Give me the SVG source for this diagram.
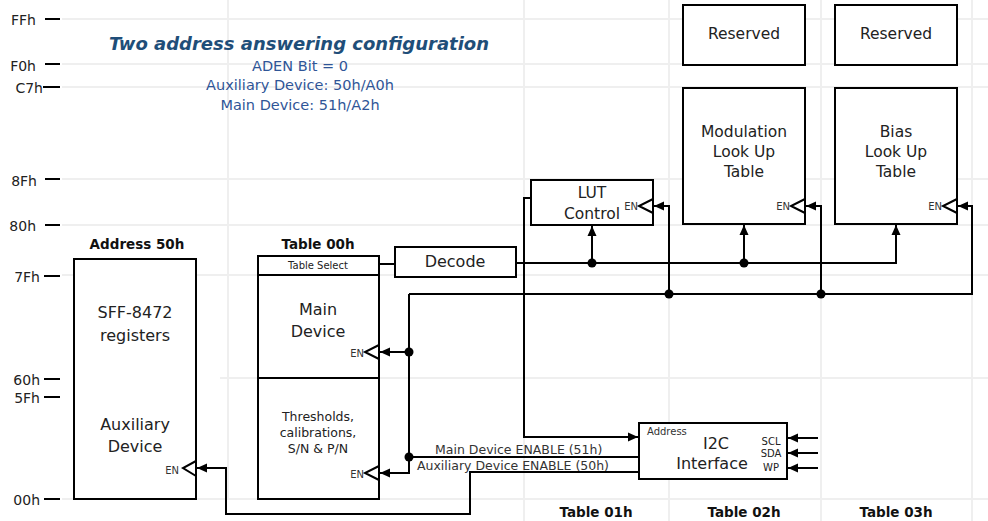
<svg xmlns="http://www.w3.org/2000/svg" width="988" height="521" viewBox="0 0 988 521">
<style>
.grid{stroke:#efefef;stroke-width:2;fill:none}
.tick{stroke:#000;stroke-width:2}
.ax{font-family:"DejaVu Sans",sans-serif;font-size:14px;fill:#222;text-anchor:end}
.box{fill:#fff;stroke:#000;stroke-width:2}
.t{font-family:"DejaVu Sans",sans-serif;fill:#222;text-anchor:middle}
.big{font-size:16px}
.mid{font-size:15.5px}
.sm{font-size:12.5px}
.xs{font-size:10px}
.en{font-family:"DejaVu Sans",sans-serif;font-size:10px;fill:#333;text-anchor:end}
.hdr{font-family:"DejaVu Sans",sans-serif;font-weight:bold;font-size:13.5px;fill:#111;text-anchor:middle}
.tri{fill:none;stroke:#000;stroke-width:2;stroke-linejoin:miter}
.ln{fill:none;stroke:#000;stroke-width:2}
.arr{fill:none;stroke:#000;stroke-width:2;marker-end:url(#ah)}
.dot{fill:#000}
.lbl{font-family:"DejaVu Sans",sans-serif;font-size:12.5px;fill:#333}
.sub{font-family:"DejaVu Sans",sans-serif;font-size:14.5px;fill:#2f5597;text-anchor:middle}
</style>
<defs>
<marker id="ah" markerWidth="11" markerHeight="10" refX="10" refY="5" orient="auto" markerUnits="userSpaceOnUse">
<path d="M0,0.5 L10,5 L0,9.5 z" fill="#000"/>
</marker>
</defs>
<rect width="988" height="521" fill="#fff"/>
<g id="grid">
<path class="grid" d="M62,19H988M62,64H988M62,87H988M62,179H988M62,225H988M62,275H988M220,378H988M62,499H988"/>
<path class="grid" d="M228,0V499M524,0V521M669,0V521M821,0V521M972,0V521"/>
</g>
<g id="axis">
<path class="tick" d="M45,19H60M45,64H60M43,87H60M45,179H60M45,225H60M44,276H60M44,379H60M44,397H60M44,499H60"/>
<text class="ax" x="36" y="25">FFh</text>
<text class="ax" x="36" y="71">F0h</text>
<text class="ax" x="43" y="93">C7h</text>
<text class="ax" x="37" y="186">8Fh</text>
<text class="ax" x="36" y="231">80h</text>
<text class="ax" x="40" y="282">7Fh</text>
<text class="ax" x="40" y="385">60h</text>
<text class="ax" x="40" y="403">5Fh</text>
<text class="ax" x="40" y="505">00h</text>
</g>
<g id="title">
<text x="299" y="50" font-family="DejaVu Sans, sans-serif" font-weight="bold" font-style="italic" font-size="18" fill="#1f4e79" text-anchor="middle">Two address answering configuration</text>
<text class="sub" x="300" y="71">ADEN Bit = 0</text>
<text class="sub" x="300" y="90">Auxiliary Device: 50h/A0h</text>
<text class="sub" x="300" y="110">Main Device: 51h/A2h</text>
</g>
<g id="address50h">
<text class="hdr" x="137" y="249" font-size="14">Address 50h</text>
<rect class="box" x="74" y="259" width="122" height="240"/>
<text class="t big" x="135" y="318">SFF-8472</text>
<text class="t big" x="135" y="341">registers</text>
<text class="t big" x="135" y="430">Auxiliary</text>
<text class="t big" x="135" y="452">Device</text>
<text class="en" x="179" y="474">EN</text>
<polyline class="tri" points="196,461 183,468 196,476"/>
</g>
<g id="table00h">
<text class="hdr" x="318" y="249">Table 00h</text>
<rect class="box" x="258" y="256" width="121" height="243"/>
<line class="ln" x1="258" y1="275" x2="379" y2="275"/>
<line class="ln" x1="258" y1="378" x2="379" y2="378"/>
<text class="t xs" x="318" y="269">Table Select</text>
<text class="t big" x="318" y="315">Main</text>
<text class="t big" x="318" y="337">Device</text>
<text class="en" x="364" y="357">EN</text>
<polyline class="tri" points="379,345 365,352 379,359"/>
<text class="t sm" x="318" y="421">Thresholds,</text>
<text class="t sm" x="318" y="437">calibrations,</text>
<text class="t sm" x="318" y="453">S/N &amp; P/N</text>
<text class="en" x="364" y="478">EN</text>
<polyline class="tri" points="379,466 365,473 379,480"/>
</g>
<g id="decode">
<rect class="box" x="395" y="247" width="121" height="30"/>
<text class="t big" x="455" y="267">Decode</text>
</g>
<g id="lutcontrol">
<rect class="box" x="531" y="180" width="122" height="45"/>
<text class="t mid" x="592" y="198">LUT</text>
<text class="t mid" x="592" y="219">Control</text>
<text class="en" x="638" y="210">EN</text>
<polyline class="tri" points="653,199 639,206 653,213"/>
</g>
<g id="reserved1">
<rect class="box" x="683" y="5" width="122" height="60"/>
<text class="t mid" x="744" y="39">Reserved</text>
</g>
<g id="reserved2">
<rect class="box" x="835" y="5" width="122" height="60"/>
<text class="t mid" x="896" y="39">Reserved</text>
</g>
<g id="modulation">
<rect class="box" x="683" y="88" width="122" height="136"/>
<text class="t mid" x="744" y="137">Modulation</text>
<text class="t mid" x="744" y="157">Look Up</text>
<text class="t mid" x="744" y="177">Table</text>
<text class="en" x="790" y="210">EN</text>
<polyline class="tri" points="805,199 791,206 805,213"/>
</g>
<g id="bias">
<rect class="box" x="835" y="88" width="122" height="136"/>
<text class="t mid" x="896" y="137">Bias</text>
<text class="t mid" x="896" y="157">Look Up</text>
<text class="t mid" x="896" y="177">Table</text>
<text class="en" x="942" y="210">EN</text>
<polyline class="tri" points="957,199 943,206 957,213"/>
</g>
<g id="i2c">
<rect class="box" x="639" y="423" width="148" height="56"/>
<text x="647" y="435" font-family="DejaVu Sans, sans-serif" font-size="10" fill="#333">Address</text>
<text class="t big" x="716" y="449">I2C</text>
<text class="t big" x="712" y="469">Interface</text>
<text class="t xs" x="771" y="445">SCL</text>
<text class="t xs" x="771" y="457">SDA</text>
<text class="t xs" x="771" y="471">WP</text>
</g>
<g id="tablelabels">
<text class="hdr" x="596" y="517">Table 01h</text>
<text class="hdr" x="744" y="517">Table 02h</text>
<text class="hdr" x="896" y="517">Table 03h</text>
</g>
<g id="connectors">
<path class="ln" d="M379,264H395"/>
<path class="arr" d="M516,263H896V225"/>
<path class="arr" d="M592,263V226"/>
<path class="arr" d="M744,263V225"/>
<path class="arr" d="M409,294H972V206H958"/>
<path class="arr" d="M669,294V206H654"/>
<path class="arr" d="M821,294V206H806"/>
<path class="arr" d="M409,294V473H380"/>
<path class="arr" d="M409,352H380"/>
<path class="ln" d="M639,457H409"/>
<path class="arr" d="M639,472H470V514H226V468H197"/>
<path class="arr" d="M531,198H524V437H638"/>
<path class="arr" d="M818,438H788"/>
<path class="arr" d="M818,453H788"/>
<path class="arr" d="M818,468H788"/>
<circle class="dot" cx="592" cy="263" r="4.5"/>
<circle class="dot" cx="744" cy="263" r="4.5"/>
<circle class="dot" cx="669" cy="294" r="4.5"/>
<circle class="dot" cx="821" cy="294" r="4.5"/>
<circle class="dot" cx="409" cy="352" r="4.5"/>
<circle class="dot" cx="409" cy="457" r="4.5"/>
<text class="lbl" x="435" y="454">Main Device ENABLE (51h)</text>
<text class="lbl" x="417" y="470">Auxiliary Device ENABLE (50h)</text>
</g>
</svg>
